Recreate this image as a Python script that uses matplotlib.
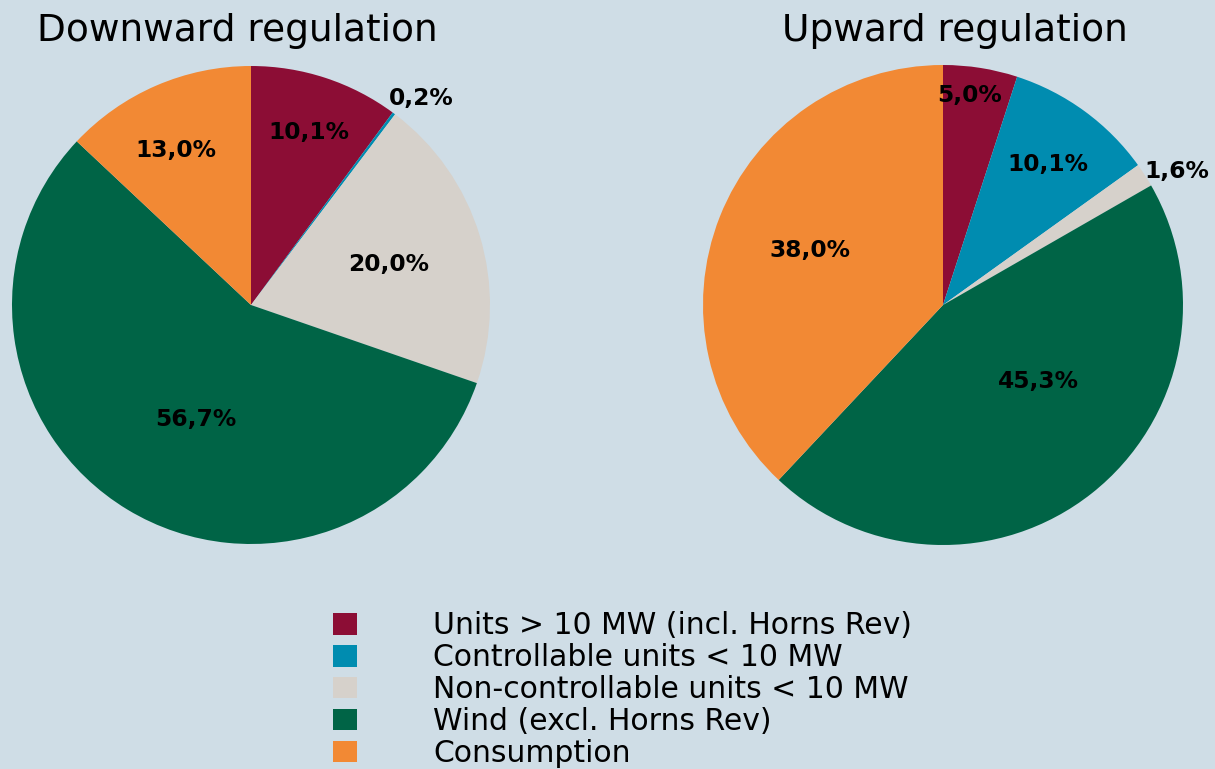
import numpy as np
import matplotlib
matplotlib.use("Agg")
import matplotlib.pyplot as plt
from matplotlib.patches import Patch

categories = ["Units > 10 MW (incl. Horns Rev)", "Controllable units < 10 MW",
              "Non-controllable units < 10 MW", "Wind (excl. Horns Rev)", "Consumption"]
down_values = [10.1, 0.2, 20.0, 56.7, 13.0]
up_values = [5.0, 10.1, 1.6, 45.3, 38.0]
down_labels = ["10,1%", "0,2%", "20,0%", "56,7%", "13,0%"]
up_labels = ["5,0%", "10,1%", "1,6%", "45,3%", "38,0%"]
titles = ["Downward regulation", "Upward regulation"]

colors = ["#8C0D35", "#008CB0", "#D6D1CB", "#006446", "#F28934"]
bg = "#CFDDE6"

# label placement style: (radial distance, angle shift in degrees)
down_lab_style = [(0.76, -0.5), (1.12, -2.7), (0.60, -0.5), (0.53, 5.5), (0.72, 2.6)]
up_lab_style = [(0.88, 1.7), (0.73, -0.5), (1.12, -3.0), (0.51, 13), (0.60, -0.8)]

W, H = 1215, 769
fig = plt.figure(figsize=(W / 100, H / 100), dpi=100, facecolor=bg)


def make_ax(cx, cy, r):
    ax = fig.add_axes([(cx - r) / W, 1 - (cy + r) / H, 2 * r / W, 2 * r / H])
    ax.set_facecolor(bg)
    ax.set_xlim(-1, 1)
    ax.set_ylim(-1, 1)
    ax.axis("off")
    return ax


def draw(ax, values, labels, styles):
    wedges, _ = ax.pie(values, colors=colors, startangle=90, counterclock=False,
                       radius=1, wedgeprops=dict(linewidth=0))
    for w, lab, (d, shift) in zip(wedges, labels, styles):
        ang = np.deg2rad((w.theta1 + w.theta2) / 2 + shift)
        ax.text(d * np.cos(ang), d * np.sin(ang), lab, ha="center", va="center",
                fontsize=16.8, fontweight="bold", color="black", clip_on=False)
    ax.set_xlim(-1, 1)
    ax.set_ylim(-1, 1)


ax1 = make_ax(251, 305, 239)
draw(ax1, down_values, down_labels, down_lab_style)
ax2 = make_ax(943, 305, 240)
draw(ax2, up_values, up_labels, up_lab_style)

fig.text(237 / W, 1 - 31 / H, titles[0], ha="center", va="center", fontsize=27, color="black")
fig.text(955 / W, 1 - 31 / H, titles[1], ha="center", va="center", fontsize=27, color="black")

handles = [Patch(facecolor=c, edgecolor="none") for c in colors]
fig.legend(handles, categories, loc="upper left", bbox_to_anchor=(333 / W, 1 - 611 / H),
           frameon=False, fontsize=21.5, borderpad=0, borderaxespad=0,
           labelspacing=0.1, handlelength=0.8, handleheight=0.75, handletextpad=2.55)

fig.savefig("out.png", dpi=100, facecolor=bg)
